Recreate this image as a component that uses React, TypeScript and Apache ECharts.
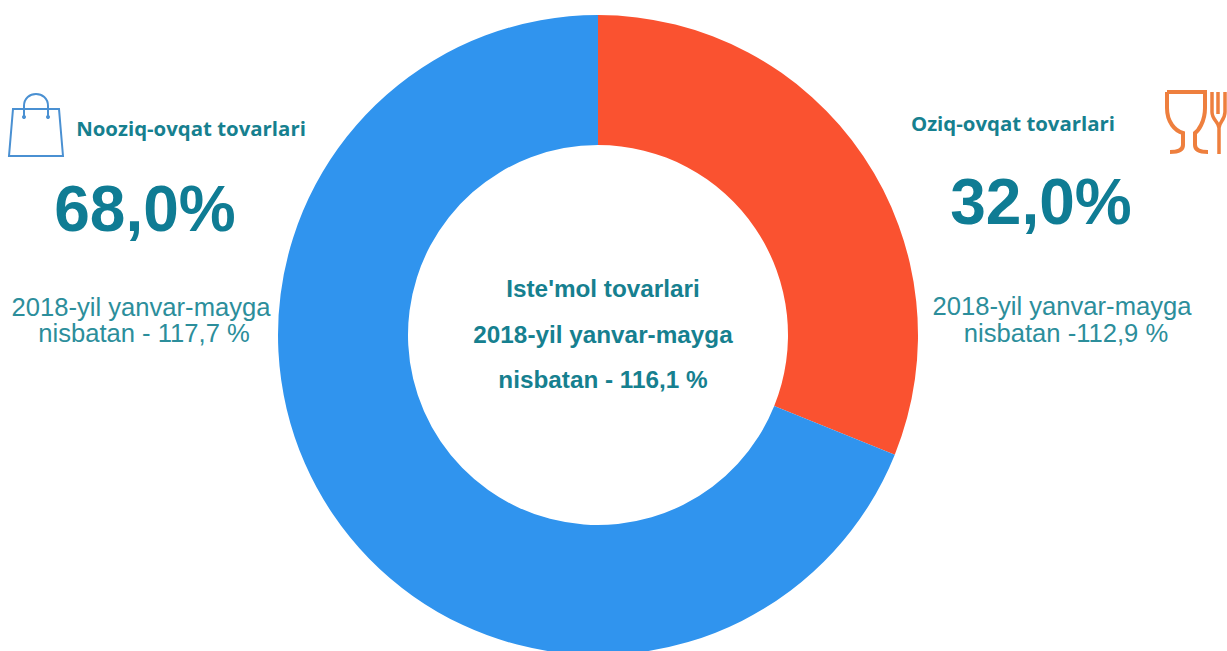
import React, { useEffect, useRef } from "react";
import * as echarts from "echarts";

const categories = ["Oziq-ovqat tovarlari", "Nooziq-ovqat tovarlari"];
const sliceValues = [31.1, 68.9];
const sliceColors = ["#FA5230", "#3094EE"];
const shareLabels = ["32,0%", "68,0%"];
const changeLines = [
  ["2018-yil yanvar-mayga", "nisbatan -112,9 %"],
  ["2018-yil yanvar-mayga", "nisbatan - 117,7 %"],
];
const centerLines = ["Iste'mol tovarlari", "2018-yil yanvar-mayga", "nisbatan - 116,1 %"];

const BAG = "M13 109 L59 109 L63 156 L9 156 Z M24 117 L24 106 C24 90 48 90 48 106 L48 117";
const GLASS =
  "M1167 92 L1205 92 L1205 108 C1205 122 1198 131 1195 133 L1195 145 C1195 150 1200 152 1208 152 M1167 92 L1167 108 C1167 122 1175 131 1183 133 L1183 145 C1183 150 1178 152 1170 152";
const FORK = "M1212 92 L1212 112 C1212 120 1219 122 1219 128 L1219 154 M1218 92 L1218 114 M1225 92 L1225 112 C1225 120 1219 122 1219 128";

echarts.graphic.registerShape("bagIcon", echarts.graphic.extendPath(BAG, {}) as any);
echarts.graphic.registerShape("glassIcon", echarts.graphic.extendPath(GLASS, {}) as any);
echarts.graphic.registerShape("forkIcon", echarts.graphic.extendPath(FORK, {}) as any);

const TEAL = "#16808F";
const SOFT = "#2C8E9B";
const BIG = "#0F7C94";
const SANS = "'Liberation Sans', Arial, sans-serif";
const NOTO = "'Open Sans', 'Noto Sans', sans-serif";

const txt = (text: string, x: number, y: number, fontSize: number, fill: string, fontWeight: any, fontFamily = SANS) => ({
  type: "text",
  x,
  y,
  style: { text, fontSize, fill, fontWeight, fontFamily, textAlign: "center", textVerticalAlign: "middle" },
});

export default function App() {
  const ref = useRef<HTMLDivElement>(null);
  useEffect(() => {
    const chart = echarts.init(ref.current!, undefined, { renderer: "svg" });
    chart.setOption({
      animation: false,
      backgroundColor: "#FFFFFF",
      series: [
        {
          type: "pie",
          center: [598, 335],
          radius: [190, 320],
          startAngle: 90,
          clockwise: true,
          silent: true,
          label: { show: false },
          labelLine: { show: false },
          data: categories.map((name, i) => ({
            name,
            value: sliceValues[i],
            itemStyle: { color: sliceColors[i] },
          })),
        },
      ],
      graphic: [
        { type: "bagIcon", style: { fill: "none", stroke: "#4A90D2", lineWidth: 2 } },
        { type: "circle", shape: { cx: 24, cy: 117, r: 2 }, style: { fill: "#4A90D2" } },
        { type: "circle", shape: { cx: 48, cy: 117, r: 2 }, style: { fill: "#4A90D2" } },
        { type: "glassIcon", style: { fill: "none", stroke: "#EE7F3E", lineWidth: 4 } },
        { type: "forkIcon", style: { fill: "none", stroke: "#EE7F3E", lineWidth: 3.5 } },
        txt(categories[1], 191, 128, 20.4, TEAL, "bold", NOTO),
        txt(categories[0], 1013, 123, 20.4, TEAL, "bold", NOTO),
        txt(shareLabels[1], 145, 209, 64, BIG, "bold"),
        txt(shareLabels[0], 1041, 202, 64, BIG, "bold"),
        txt(changeLines[1][0], 141, 307, 25.6, SOFT, "normal"),
        txt(changeLines[1][1], 144, 333, 25.6, SOFT, "normal"),
        txt(changeLines[0][0], 1062, 306, 25.6, SOFT, "normal"),
        txt(changeLines[0][1], 1066, 333, 25.6, SOFT, "normal"),
        txt(centerLines[0], 603, 288, 24.3, TEAL, "bold"),
        txt(centerLines[1], 603, 334, 24.3, TEAL, "bold"),
        txt(centerLines[2], 603, 379, 24.3, TEAL, "bold"),
      ],
    });
    return () => chart.dispose();
  }, []);
  return <div ref={ref} style={{ position: "fixed", left: 0, top: 0, width: 1227, height: 651 }} />;
}
